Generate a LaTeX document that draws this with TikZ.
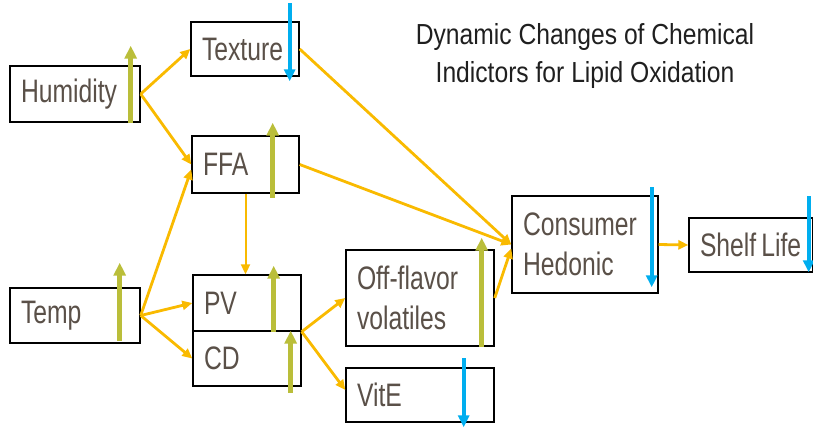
\documentclass[tikz,border=0pt]{standalone}
\usepackage{fontspec}
\setmainfont{Liberation Sans}[FakeStretch=0.85]
\newfontfamily\boxfont{Liberation Sans}[FakeStretch=0.76]
\usepackage{xcolor}
\usetikzlibrary{arrows.meta}
\definecolor{boxtext}{RGB}{90, 80, 72}
\definecolor{flowyellow}{RGB}{249, 186, 0}
\definecolor{upgreen}{RGB}{186, 190, 58}
\definecolor{downblue}{RGB}{0, 174, 239}

\begin{document}
\begin{tikzpicture}[x=1pt, y=-1pt,
    box/.style={rectangle, draw=black, line width=1.4pt, fill=white,
                inner xsep=11pt, inner ysep=0pt, align=left,
                text=boxtext, font=\boxfont\fontsize{32.5}{40}\selectfont},
    flow/.style={-{Triangle[length=10pt,width=9pt]}, line width=2.8pt,
                 color=flowyellow},
    rise/.style={-{Triangle[length=13pt,width=12pt]}, line width=4.5pt,
                 color=upgreen},
    fall/.style={-{Triangle[length=12pt,width=11pt]}, line width=4pt,
                 color=downblue}]

    \useasboundingbox (0,0) rectangle (813,429);

    % Title
    \node[inner sep=0pt, align=center, text=black!88,
          font=\fontsize{29}{38}\selectfont] (title) at (585,56)
          {Dynamic Changes of Chemical\\Indictors for Lipid Oxidation};

    % Factors
    \node[box, text width=108pt, minimum height=56pt] (hum)  at (75,94)    {Humidity};
    \node[box, text width=108pt, minimum height=55pt] (temp) at (75,315.5) {Temp};

    % Indicators
    \node[box, text width=86pt, minimum height=54pt] (tex) at (245,49)    {Texture};
    \node[box, text width=85pt, minimum height=57pt] (ffa) at (245.5,164.5) {FFA};
    \node[box, text width=86pt, minimum height=56pt] (pv)  at (247,303)   {PV};
    \node[box, text width=86pt, minimum height=55pt] (cd)  at (247,358.5) {CD};
    \node[box, text width=126pt, minimum height=96pt] (off)  at (420,298) {Off-flavor\\volatiles};
    \node[box, text width=126pt, minimum height=54pt] (vite) at (420,395) {VitE};

    % Outcomes
    \node[box, text width=124pt, minimum height=97pt] (cons)  at (585,244.5) {Consumer\\Hedonic};
    \node[box, text width=102pt, minimum height=54pt] (shelf) at (751,245)   {\mbox{Shelf\hspace{5pt}Life}};

    % Flow arrows
    \draw[flow] (hum.east) -- (tex.west);
    \draw[flow] (hum.east) -- (ffa.west);
    \draw[flow] (temp.east) -- ([yshift=-5pt]ffa.west);
    \draw[flow] (temp.east) -- (pv.west);
    \draw[flow] (temp.east) -- (cd.west);
    \draw[flow, line width=2pt] (ffa.south) -- (ffa.south |- pv.north);
    \draw[flow] (pv.south east) -- (off.west);
    \draw[flow] (pv.south east) -- ([yshift=5pt]vite.west);
    \draw[flow] (tex.east) -- (cons.west);
    \draw[flow] (ffa.east) -- (cons.west);
    \draw[flow] (off.east) -- ([yshift=-4pt]cons.west);
    \draw[flow] (cons.east) -- (shelf.west);

    % Up / down trends
    \draw[rise] ([xshift=-10pt]hum.south east) -- ++(0,-77);
    \draw[fall] ([xshift=-10pt,yshift=18pt]tex.north east) -- ++(0,78);
    \draw[rise] ([xshift=-27pt,yshift=-4pt]ffa.south east) -- ++(0,-75);
    \draw[rise] ([xshift=-21pt,yshift=3pt]temp.south east) -- ++(0,-78);
    \draw[rise] ([xshift=-28pt]pv.south east) -- ++(0,-66);
    \draw[rise] ([xshift=-11pt,yshift=-6pt]cd.south east) -- ++(0,-62);
    \draw[rise] ([xshift=-13pt]off.south east) -- ++(0,-109);
    \draw[fall] ([xshift=-31pt,yshift=9pt]vite.north east) -- ++(0,69);
    \draw[fall] ([xshift=-7pt,yshift=8pt]cons.north east) -- ++(0,100);
    \draw[fall] ([xshift=-5pt,yshift=21pt]shelf.north east) -- ++(0,76);
\end{tikzpicture}
\end{document}
